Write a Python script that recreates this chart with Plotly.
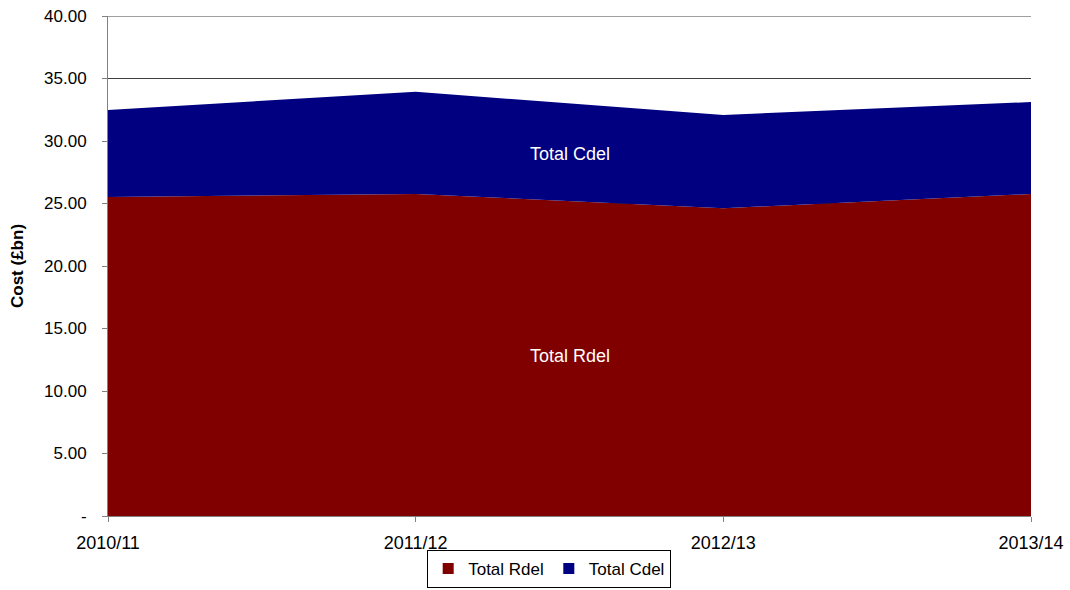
import plotly.graph_objects as go

# Financial years and stacked cost components (£bn)
years = ["2010/11", "2011/12", "2012/13", "2013/14"]
total_rdel = [25.52, 25.76, 24.62, 25.76]
total_cdel = [6.96, 8.18, 7.46, 7.36]

series_names = ["Total Rdel", "Total Cdel"]
series_colors = ["#800000", "#000080"]

y_ticks = [0, 5, 10, 15, 20, 25, 30, 35, 40]
y_tick_text = ["-", "5.00", "10.00", "15.00", "20.00", "25.00", "30.00", "35.00", "40.00"]

x_pos = list(range(len(years)))
font_family = "Liberation Sans, Arial, sans-serif"

fig = go.Figure()
for name, values, color in zip(series_names, [total_rdel, total_cdel], series_colors):
    fig.add_trace(go.Scatter(
        x=x_pos, y=values, name=name, stackgroup="cost",
        mode="none", fillcolor=color, showlegend=False,
    ))
    # square swatch for the legend
    fig.add_trace(go.Scatter(
        x=[None], y=[None], name=name, mode="markers",
        marker=dict(symbol="square", size=11, color=color),
    ))

# In-chart series labels
mid_x = (x_pos[0] + x_pos[-1]) / 2
fig.add_annotation(x=mid_x, y=29.0, text="Total Cdel", showarrow=False,
                   font=dict(color="white", size=18, family=font_family))
fig.add_annotation(x=mid_x, y=12.8, text="Total Rdel", showarrow=False,
                   font=dict(color="white", size=18, family=font_family))

# top border line at the axis maximum
fig.add_shape(type="line", xref="paper", yref="y", x0=0, x1=1, y0=40, y1=40,
              line=dict(color="#404040", width=1))

fig.update_layout(
    width=1070, height=590,
    margin=dict(l=108, r=39, t=16, b=74, autoexpand=False),
    paper_bgcolor="white", plot_bgcolor="white",
    font=dict(family=font_family, size=17, color="black"),
    showlegend=True,
    legend=dict(
        orientation="h", x=0.478, xanchor="center",
        yref="container", y=1 - 550 / 590, yanchor="top",
        bordercolor="black", borderwidth=1, bgcolor="white",
        font=dict(size=17), itemwidth=30, traceorder="normal",
        tracegroupgap=0,
    ),
    xaxis=dict(
        range=[x_pos[0], x_pos[-1]], tickvals=x_pos, ticktext=years,
        showgrid=False, showline=True, linecolor="#808080", linewidth=1,
        ticks="outside", ticklen=5, tickcolor="#808080", zeroline=False,
        tickfont=dict(size=18), ticklabelstandoff=5, automargin=False,
    ),
    yaxis=dict(
        range=[0, 40], tickvals=y_ticks, ticktext=y_tick_text,
        showgrid=True, gridcolor="#404040", gridwidth=1,
        showline=True, linecolor="#808080", linewidth=1,
        ticks="outside", ticklen=5, tickcolor="#808080", zeroline=False,
        tickfont=dict(size=17), ticklabelstandoff=12, automargin=False,
        title=dict(text="<b>Cost (£bn)</b>", font=dict(size=17), standoff=16),
    ),
)

fig.write_html("out.html")
